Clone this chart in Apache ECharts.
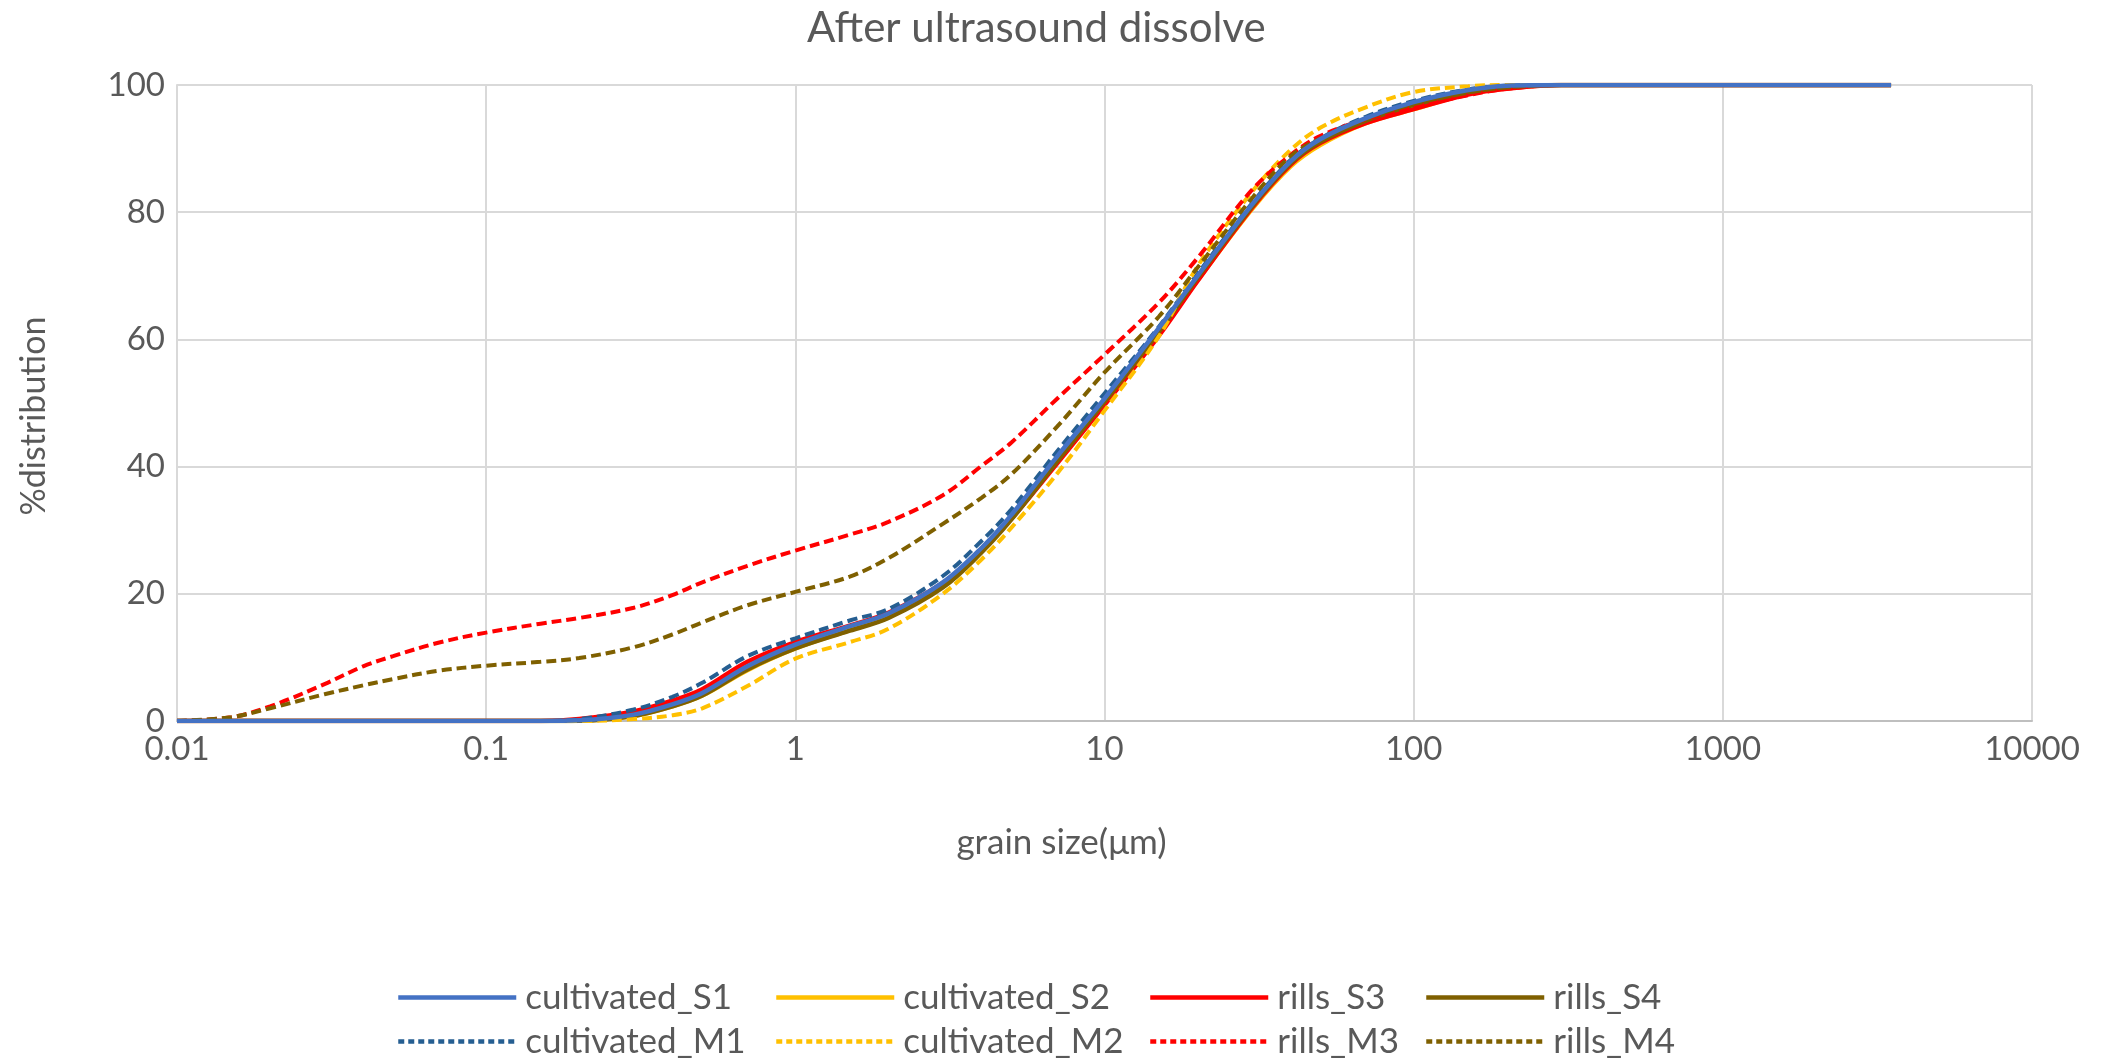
<!DOCTYPE html>
<html>
<head>
<meta charset="utf-8">
<script src="https://cdn.jsdelivr.net/npm/echarts@6/dist/echarts.min.js"></script>
<style>
html,body{margin:0;padding:0;background:#fff;}
#chart{width:2106px;height:1059px;}
</style>
</head>
<body>
<div id="chart"></div>
<script>
const sizes = [0.01, 0.015, 0.02, 0.03, 0.04, 0.05, 0.07, 0.1, 0.15, 0.2, 0.3, 0.4, 0.5, 0.7, 1, 1.5, 2, 3, 4, 5, 7, 10, 15, 20, 30, 40, 50, 70, 100, 150, 200, 300, 500, 1000, 2000, 3500];

const cultivated_S1 = [0, 0, 0, 0, 0, 0, 0, 0, 0, 0.1, 1.0, 2.6, 4.4, 8.6, 12.0, 14.9, 16.9, 21.8, 27.2, 32.4, 41.5, 50.7, 61.8, 70.0, 81.2, 88.0, 91.5, 94.8, 97.3, 99.2, 99.9, 100, 100, 100, 100, 100];
const cultivated_S2 = [0, 0, 0, 0, 0, 0, 0, 0, 0, 0.05, 0.8, 2.3, 4.0, 8.0, 11.4, 14.3, 16.3, 21.3, 26.8, 31.9, 40.9, 50.1, 61.0, 69.3, 80.5, 87.2, 90.6, 94.0, 96.2, 98.6, 99.5, 100, 100, 100, 100, 100];
const rills_S3 = [0, 0, 0, 0, 0, 0, 0, 0, 0, 0.3, 1.5, 3.2, 5.0, 9.3, 12.4, 15.0, 17.0, 21.7, 26.8, 31.8, 40.4, 49.7, 60.6, 69.2, 80.7, 87.5, 90.9, 94.0, 96.2, 98.5, 99.4, 100, 100, 100, 100, 100];
const rills_S4 = [0, 0, 0, 0, 0, 0, 0, 0, 0, 0.05, 0.8, 2.3, 4.0, 8.1, 11.4, 14.2, 16.2, 21.0, 26.5, 31.7, 40.7, 50.2, 61.2, 69.7, 80.9, 87.7, 91.1, 94.4, 96.9, 98.9, 99.7, 100, 100, 100, 100, 100];
const cultivated_M1 = [0, 0, 0, 0, 0, 0, 0, 0, 0, 0.3, 1.8, 3.8, 6.0, 10.2, 13.0, 15.8, 17.6, 22.8, 28.3, 33.3, 42.3, 51.5, 62.0, 70.3, 81.4, 88.2, 91.6, 95.0, 97.5, 99.3, 99.9, 100, 100, 100, 100, 100];
const cultivated_M2 = [0, 0, 0, 0, 0, 0, 0, 0, 0, 0, 0.3, 0.9, 2.0, 5.5, 9.8, 12.4, 14.5, 20.0, 25.4, 30.4, 38.8, 48.8, 60.5, 71.5, 83.2, 89.8, 93.3, 96.5, 98.9, 99.8, 100, 100, 100, 100, 100, 100];
const rills_M3 = [0, 0.6, 2.3, 5.8, 8.6, 10.2, 12.3, 13.9, 15.3, 16.2, 17.8, 19.8, 21.8, 24.4, 26.8, 29.3, 31.3, 35.5, 40.1, 43.8, 50.6, 57.6, 65.8, 72.8, 83.5, 89.0, 92.0, 94.6, 96.5, 98.4, 99.4, 100, 100, 100, 100, 100];
const rills_M4 = [0, 0.6, 2.0, 4.2, 5.6, 6.6, 7.9, 8.7, 9.3, 9.9, 11.6, 13.6, 15.5, 18.2, 20.3, 22.7, 25.6, 31.0, 35.1, 38.8, 46.2, 54.8, 63.6, 71.3, 82.2, 88.8, 91.6, 94.7, 97.0, 98.8, 99.6, 100, 100, 100, 100, 100];

const seriesNames = ['cultivated_S1', 'cultivated_S2', 'rills_S3', 'rills_S4', 'cultivated_M1', 'cultivated_M2', 'rills_M3', 'rills_M4'];
const seriesValues = [cultivated_S1, cultivated_S2, rills_S3, rills_S4, cultivated_M1, cultivated_M2, rills_M3, rills_M4];
const seriesColors = ['#4472C4', '#FFC000', '#FF0000', '#7F6000', '#255E91', '#FFC000', '#FF0000', '#7F6000'];
const seriesDashed = [false, false, false, false, true, true, true, true];
const xTickLabels = ['0.01', '0.1', '1', '10', '100', '1000', '10000'];

const FONT = 'Lato';
const TXT = '#595959';

const series = seriesNames.map((name, i) => ({
  name: name,
  type: 'line',
  data: sizes.map((s, k) => [s, seriesValues[i][k]]),
  smooth: 0.35,
  symbol: 'none',
  showSymbol: false,
  z: name === 'cultivated_S1' ? 4 : 2,
  lineStyle: {
    color: seriesColors[i],
    width: seriesDashed[i] ? 4 : 4.5,
    type: seriesDashed[i] ? [10, 5] : 'solid',
    cap: 'butt'
  },
  itemStyle: { color: seriesColors[i] }
}));

// legend placement: 4 columns x 2 rows
const colLeft = [396, 774, 1148, 1424];
const rowTop = [980, 1024];
const legends = seriesNames.map((name, i) => ({
  data: [name],
  left: colLeft[i % 4],
  top: rowTop[Math.floor(i / 4)],
  itemWidth: 118,
  itemHeight: 14,
  padding: 0,
  itemStyle: { opacity: 0 },
  lineStyle: { width: 4.5, type: seriesDashed[i] ? [6, 4] : 'solid' },
  textStyle: { fontFamily: FONT, fontSize: 35, color: TXT, padding: [0, 0, 0, 4] },
  selectedMode: false
}));

const chart = echarts.init(document.getElementById('chart'), null, { renderer: 'canvas' });
chart.setOption({
  backgroundColor: '#fff',
  animation: false,
  title: {
    text: 'After ultrasound dissolve',
    left: 802,
    top: 2,
    textStyle: { fontFamily: FONT, fontSize: 42, fontWeight: 'normal', color: TXT }
  },
  legend: legends,
  grid: { left: 177, right: 74, top: 85, bottom: 338, containLabel: false },
  xAxis: {
    type: 'log',
    logBase: 10,
    min: 0.01,
    max: 10000,
    name: 'grain size(μm)',
    nameLocation: 'middle',
    nameGap: 104,
    nameTextStyle: { fontFamily: FONT, fontSize: 35, color: TXT, padding: [0, 86, 0, 0] },
    axisLine: { show: true, onZero: false, lineStyle: { color: '#BFBFBF', width: 2 } },
    axisTick: { show: false },
    axisLabel: {
      fontFamily: FONT, fontSize: 33, color: TXT, margin: 12,
      formatter: function (v) {
        const idx = Math.round(Math.log10(v)) + 2;
        return xTickLabels[idx] !== undefined ? xTickLabels[idx] : '';
      }
    },
    splitLine: { show: true, lineStyle: { color: '#D9D9D9', width: 2 } }
  },
  yAxis: {
    type: 'value',
    min: 0,
    max: 100,
    interval: 20,
    name: '%distribution',
    nameLocation: 'middle',
    nameGap: 126,
    nameTextStyle: { fontFamily: FONT, fontSize: 34, color: TXT, padding: [0, 26, 0, 0] },
    axisLine: { show: true, lineStyle: { color: '#D9D9D9', width: 2 } },
    axisTick: { show: false },
    axisLabel: { fontFamily: FONT, fontSize: 33, color: TXT, margin: 12 },
    splitLine: { show: true, lineStyle: { color: '#D9D9D9', width: 2 } }
  },
  series: series
});
</script>
</body>
</html>
